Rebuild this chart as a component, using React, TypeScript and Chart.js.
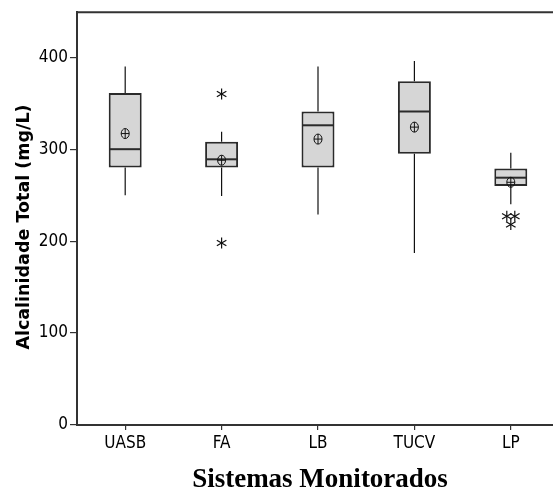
import React, { useEffect, useRef } from "react";
import { Chart, registerables } from "chart.js";

Chart.register(...registerables);

const categories = ["UASB", "FA", "LB", "TUCV", "LP"];
const whiskerLow = [250, 249, 229, 187, 240];
const q1 = [280, 280, 280, 295, 260];
const median = [300, 289, 326, 341, 269];
const q3 = [361, 308, 341, 374, 279];
const whiskerHigh = [390, 319, 390, 396, 296];
const means = [317, 288, 311, 324, 264];
const outliers: number[][] = [[], [360, 198], [], [], [227, 227, 218]];
const yTicks = [0, 100, 200, 300, 400];
const yTitle = "Alcalinidade Total (mg/L)";
const xTitle = "Sistemas Monitorados";

const tickFamily =
  '"Liberation Sans Narrow", "DejaVu Sans Condensed", "Roboto Condensed", "Open Sans Condensed", "Liberation Sans", Arial';

const boxExtras = {
  id: "boxExtras",
  afterDatasetsDraw(chart: any) {
    const { ctx, scales, chartArea } = chart;
    const x = scales.x;
    const y = scales.y;
    const meta = chart.getDatasetMeta(0);
    const line = (x1: number, y1: number, x2: number, y2: number) => {
      ctx.beginPath();
      ctx.moveTo(x1, y1);
      ctx.lineTo(x2, y2);
      ctx.stroke();
    };
    ctx.save();
    categories.forEach((_, i) => {
      const cx = x.getPixelForValue(i);
      const bar = meta.data[i];
      const half = bar.width / 2;
      // whiskers
      ctx.strokeStyle = "#111";
      ctx.lineWidth = 1.2;
      line(cx, y.getPixelForValue(q3[i]), cx, y.getPixelForValue(whiskerHigh[i]));
      line(cx, y.getPixelForValue(q1[i]), cx, y.getPixelForValue(whiskerLow[i]));
      // median
      ctx.strokeStyle = "#2a2a2a";
      ctx.lineWidth = 2;
      const ym = y.getPixelForValue(median[i]);
      line(cx - half + 1, ym, cx + half - 1, ym);
      // mean symbol (circle with cross)
      const yMean = y.getPixelForValue(means[i]);
      ctx.strokeStyle = "#111";
      ctx.lineWidth = 1;
      ctx.beginPath();
      ctx.ellipse(cx, yMean, 4, 5, 0, 0, Math.PI * 2);
      ctx.stroke();
      line(cx - 4, yMean, cx + 4, yMean);
      line(cx, yMean - 5, cx, yMean + 5);
      // outliers (asterisks); equal values are spread side by side
      const groups: Record<string, number> = {};
      outliers[i].forEach((v) => {
        groups[v] = (groups[v] || 0) + 1;
      });
      const used: Record<string, number> = {};
      outliers[i].forEach((v) => {
        const n = groups[v];
        const k = used[v] || 0;
        used[v] = k + 1;
        const ox = cx + (k - (n - 1) / 2) * 8;
        const oy = y.getPixelForValue(v);
        const r = 5.5;
        ctx.lineWidth = 1.2;
        line(ox, oy - r, ox, oy + r);
        const dx = r * Math.cos(Math.PI / 6);
        const dy = r * Math.sin(Math.PI / 6);
        line(ox - dx, oy - dy, ox + dx, oy + dy);
        line(ox - dx, oy + dy, ox + dx, oy - dy);
      });
    });
    // top frame line
    ctx.strokeStyle = "#333";
    ctx.lineWidth = 2;
    line(chartArea.left, chartArea.top, chartArea.right, chartArea.top);
    ctx.restore();
  },
  afterDraw(chart: any) {
    const { ctx, chartArea } = chart;
    ctx.save();
    ctx.fillStyle = "#000";
    // y title
    ctx.font = 'bold 17.5px "DejaVu Sans", sans-serif';
    ctx.textAlign = "center";
    ctx.textBaseline = "middle";
    ctx.translate(24, 227);
    ctx.rotate(-Math.PI / 2);
    ctx.fillText(yTitle, 0, 0);
    ctx.restore();
    ctx.save();
    ctx.fillStyle = "#000";
    ctx.font = 'bold 27px "Liberation Serif", "Times New Roman", serif';
    ctx.textAlign = "center";
    ctx.textBaseline = "alphabetic";
    ctx.fillText(xTitle, (chartArea.left + chartArea.right) / 2 + 2, 487);
    ctx.restore();
  },
};

export default function App() {
  const ref = useRef<HTMLCanvasElement>(null);
  useEffect(() => {
    if (!ref.current) return;
    const chart = new Chart(ref.current, {
      type: "bar",
      data: {
        labels: categories,
        datasets: [
          {
            data: categories.map((_, i) => [q1[i], q3[i]]) as any,
            backgroundColor: "#d6d6d6",
            borderColor: "#2a2a2a",
            borderWidth: 2,
            borderSkipped: false,
            barPercentage: 0.342,
            categoryPercentage: 1,
          },
        ],
      },
      options: {
        responsive: false,
        animation: false,
        devicePixelRatio: 1,
        layout: { padding: { top: 9, left: 0, right: 0, bottom: 0 } },
        plugins: { legend: { display: false }, tooltip: { enabled: false } },
        scales: {
          x: {
            offset: true,
            grid: {
              display: true,
              offset: false,
              drawOnChartArea: false,
              drawTicks: true,
              tickLength: 5,
              color: "#333",
              lineWidth: 1.2,
            },
            border: { display: true, color: "#333", width: 2 },
            ticks: {
              color: "#000",
              padding: 3,
              font: { family: tickFamily, size: 17 },
            },
            afterFit: (s: any) => {
              s.height = 67;
            },
          },
          y: {
            min: 0,
            max: 449,
            afterBuildTicks: (s: any) => {
              s.ticks = yTicks.map((v) => ({ value: v }));
            },
            grid: {
              display: true,
              drawOnChartArea: false,
              drawTicks: true,
              tickLength: 7,
              color: "#333",
              lineWidth: 1.2,
            },
            border: { display: true, color: "#333", width: 2 },
            ticks: {
              color: "#000",
              padding: 2,
              font: { family: tickFamily, size: 17 },
            },
            afterFit: (s: any) => {
              s.width = 77;
            },
          },
        },
      },
      plugins: [boxExtras],
    });
    return () => chart.destroy();
  }, []);
  return (
    <div
      style={{
        position: "absolute",
        left: 0,
        top: 0,
        width: 553,
        height: 492,
        overflow: "hidden",
        background: "#fff",
      }}
    >
      <canvas ref={ref} width={559} height={492} style={{ display: "block" }} />
    </div>
  );
}
